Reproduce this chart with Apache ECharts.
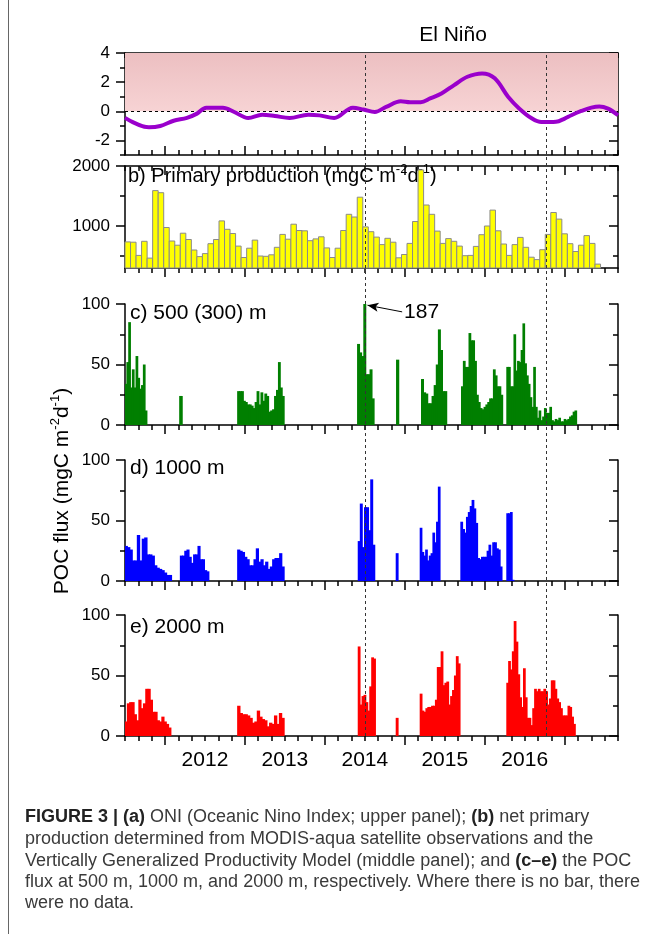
<!DOCTYPE html>
<html>
<head>
<meta charset="utf-8">
<script src="https://cdn.jsdelivr.net/npm/echarts@6/dist/echarts.min.js"></script>
<style>
html,body{margin:0;padding:0;background:#fff;}
#chart{width:657px;height:934px;}
</style>
</head>
<body>
<div id="chart"></div>
<script>
// ---------------- DATA (x = months since Jan 2011) ----------------
const xMin = 6;   // Jul 2011
const xMax = 80;  // Sep 2017
const yearTicks = [12, 24, 36, 48, 60, 72];
const yearLabelPos = [18, 30, 42, 54, 66];
const yearLabels = ['2012', '2013', '2014', '2015', '2016'];
const eventLines = [42, 69.25];

// a) ONI
const oniMonths = [6, 9.6, 11.3, 13.3, 15.3, 16.8, 18.2, 20.7, 22.4, 24.5, 26.6, 28.5, 30.7, 33.5, 35.2, 37.4, 40.2, 41.8, 43.5, 45.2, 47.4, 48.8, 50.4, 51.8, 53.5, 55.4, 57.4, 59.6, 61.5, 63.5, 65.2, 67.1, 68.5, 70.7, 72, 73, 74.5, 76, 77.2, 78.5, 80];
const oniValues = [-0.45, -1.1, -1.01, -0.65, -0.45, -0.16, 0.25, 0.25, -0.05, -0.46, -0.23, -0.32, -0.46, -0.23, -0.28, -0.46, 0.25, 0.12, -0.05, 0.3, 0.69, 0.62, 0.62, 0.88, 1.22, 1.8, 2.37, 2.6, 2.26, 1.0, 0.18, -0.5, -0.74, -0.72, -0.5, -0.27, 0.02, 0.25, 0.33, 0.18, -0.27];

// b) Primary production (regular sampling)
const ppStart = 6;
const ppStep = 0.83;
const ppValues = [735, 730, 510, 745, 465, 1590, 1555, 975, 750, 680,
  880, 775, 600, 490, 540, 705, 775, 1085, 945, 875,
  665, 475, 630, 765, 500, 495, 520, 645, 860, 780,
  1030, 925, 920, 755, 785, 820, 635, 475, 630, 925,
  1195, 1150, 1480, 985, 905, 815, 690, 795, 730, 470,
  525, 710, 1075, 1935, 1350, 1195, 915, 710, 790, 745,
  665, 505, 510, 660, 855, 1000, 1265, 920, 700, 510,
  690, 810, 645, 480, 440, 605, 860, 1225, 1115, 870,
  705, 575, 680, 840, 710, 365];

// c) 500 (300) m  – deployments: start, end, values
const c500Start = [6.0, 14.2, 22.9, 40.9, 46.75, 50.5, 56.5, 63.3];
const c500End   = [9.3, 14.6, 29.9, 43.4, 47.1, 54.3, 62.7, 73.8];
const c500_1 = [34, 52, 85, 31, 46, 31, 57, 39, 30, 33, 50, 12];
const c500_2 = [24];
const c500_3 = [28, 28, 28, 20, 19, 17, 17, 16, 14, 19, 28, 17, 27, 20, 26, 24, 11, 12, 13, 24, 29, 52, 31, 24];
const c500_4 = [67, 60, 57, 187, 42, 42, 46, 22];
const c500_5 = [54];
const c500_6 = [38, 27, 26, 18, 18, 24, 33, 50, 79, 62, 28, 28];
const c500_7 = [32, 53, 48, 48, 76, 70, 70, 53, 25, 19, 14, 13, 15, 17, 19, 22, 22, 46, 41, 32, 32, 25];
const c500_8 = [48, 48, 32, 32, 75, 45, 53, 52, 62, 84, 51, 41, 34, 23, 15, 48, 15, 6, 12, 4, 7, 14, 10, 10, 15, 4, 3, 5, 4, 6, 3, 3, 5, 4, 5, 7, 8, 11, 12];

// d) 1000 m
const d1000Start = [6.0, 14.3, 22.9, 41.0, 46.7, 50.3, 56.4, 63.3];
const d1000End   = [13.0, 18.6, 29.9, 43.5, 47.0, 53.3, 62.6, 64.4];
const d1000_1 = [29, 28, 26, 17, 17, 38, 17, 35, 36, 22, 22, 21, 13, 11, 10, 9, 7, 5, 5];
const d1000_2 = [21, 21, 25, 26, 20, 15, 22, 22, 29, 18, 18, 9, 8];
const d1000_3 = [26, 25, 24, 20, 18, 13, 13, 18, 27, 16, 18, 13, 16, 10, 12, 18, 19, 19, 23, 12];
const d1000_4 = [33, 64, 28, 61, 61, 42, 84, 30];
const d1000_5 = [23];
const d1000_6 = [44, 24, 21, 26, 17, 21, 23, 40, 32, 49, 78];
const d1000_7 = [49, 43, 40, 53, 57, 62, 67, 60, 48, 19, 18, 20, 20, 20, 25, 30, 21, 32, 32, 27, 26, 12];
const d1000_8 = [56, 56, 57, 1];

// e) 2000 m
const e2000Start = [6.0, 22.9, 41.0, 46.7, 50.3, 63.3];
const e2000End   = [12.9, 29.9, 43.6, 47.0, 56.3, 73.6];
const e2000_1 = [12, 27, 28, 28, 18, 13, 30, 23, 27, 39, 39, 30, 20, 20, 13, 12, 16, 12, 10, 7];
const e2000_2 = [25, 19, 18, 18, 17, 15, 11, 12, 21, 16, 14, 13, 8, 11, 10, 17, 10, 19, 15];
const e2000_3 = [74, 26, 33, 34, 28, 21, 41, 65, 64];
const e2000_4 = [15];
const e2000_5 = [35, 21, 20, 23, 24, 24, 25, 25, 30, 57, 57, 70, 42, 44, 45, 26, 33, 38, 50, 66, 60];
const e2000_6 = [44, 62, 55, 70, 95, 78, 51, 32, 24, 56, 32, 15, 15, 9, 23, 39, 37, 39, 37, 37, 39, 37, 26, 31, 46, 46, 39, 31, 28, 23, 17, 17, 17, 25, 24, 16, 10];

const peakLabel = '187';

// ---------------- BUILD ----------------
function segRows(starts, ends, groups) {
  const rows = [];
  groups.forEach((vals, i) => {
    const w = (ends[i] - starts[i]) / vals.length;
    vals.forEach((v, j) => rows.push([starts[i] + j * w, starts[i] + (j + 1) * w, v]));
  });
  return rows;
}
const ppRows = ppValues.map((v, i) => [ppStart + i * ppStep, ppStart + (i + 1) * ppStep, v]);
const c500Rows = segRows(c500Start, c500End, [c500_1, c500_2, c500_3, c500_4, c500_5, c500_6, c500_7, c500_8]);
const d1000Rows = segRows(d1000Start, d1000End, [d1000_1, d1000_2, d1000_3, d1000_4, d1000_5, d1000_6, d1000_7, d1000_8]);
const e2000Rows = segRows(e2000Start, e2000End, [e2000_1, e2000_2, e2000_3, e2000_4, e2000_5, e2000_6]);
const oniData = oniMonths.map((m, i) => [m, oniValues[i]]);

const FONT = 'Liberation Sans, Arial, sans-serif';
const AX = { color: '#000', width: 1.5 };
const L = 125, W = 493;
const grids = [
  { left: L, width: W, top: 53, height: 102 },
  { left: L, width: W, top: 166, height: 102 },
  { left: L, width: W, top: 304, height: 121 },
  { left: L, width: W, top: 460, height: 121 },
  { left: L, width: W, top: 615, height: 121 },
  { left: L, width: W, top: 53, height: 683 }
];

const xAxes = [], yAxes = [];
function addX(grid, position, inside, labels) {
  const minorIdx = xAxes.length;
  xAxes.push({
    type: 'value', gridIndex: grid, position, min: xMin, max: xMax, interval: 2,
    axisLine: { show: true, onZero: false, lineStyle: AX },
    axisTick: { show: true, inside, length: 5, lineStyle: AX },
    axisLabel: { show: false }, splitLine: { show: false }
  });
  xAxes.push({
    type: 'value', gridIndex: grid, position, min: xMin, max: xMax,
    axisLine: { show: false, onZero: false },
    axisTick: { show: true, inside, length: 9, lineStyle: AX, customValues: yearTicks },
    axisLabel: labels ? {
      show: true, customValues: yearLabelPos, margin: 14, fontSize: 21, color: '#000', fontFamily: FONT,
      formatter: v => yearLabels[yearLabelPos.indexOf(v)] || ''
    } : { show: false },
    splitLine: { show: false }
  });
  return minorIdx;
}
function addY(grid, min, max, major, minor, labels) {
  const idx = yAxes.length;
  const base = { type: 'value', gridIndex: grid, min, max, splitLine: { show: false } };
  yAxes.push(Object.assign({}, base, {
    position: 'left',
    axisLine: { show: true, onZero: false, lineStyle: AX },
    axisTick: { show: true, length: 9, lineStyle: AX, customValues: major },
    axisLabel: { show: true, customValues: labels, margin: 15, fontSize: 17, color: '#000', fontFamily: FONT,
      formatter: v => String(v) }
  }));
  yAxes.push(Object.assign({}, base, {
    position: 'left', axisLine: { show: false, onZero: false },
    axisTick: { show: true, length: 5, lineStyle: AX, customValues: minor },
    axisLabel: { show: false }
  }));
  yAxes.push(Object.assign({}, base, {
    position: 'right', axisLine: { show: true, onZero: false, lineStyle: AX },
    axisTick: { show: true, inside: true, length: 9, lineStyle: AX, customValues: major },
    axisLabel: { show: false }
  }));
  yAxes.push(Object.assign({}, base, {
    position: 'right', axisLine: { show: false, onZero: false },
    axisTick: { show: true, inside: true, length: 5, lineStyle: AX, customValues: minor },
    axisLabel: { show: false }
  }));
  return idx;
}

const xa = addX(0, 'bottom', true, false); addX(0, 'top', true, false);
const xb = addX(1, 'bottom', false, false); addX(1, 'top', true, false);
const xc = addX(2, 'bottom', false, false);
const xd = addX(3, 'bottom', false, false);
const xe = addX(4, 'bottom', false, true);
const xo = xAxes.length;
xAxes.push({ type: 'value', gridIndex: 5, min: xMin, max: xMax, show: false });

const ya = addY(0, -3, 4, [-2, 0, 2, 4], [-3, -1, 1, 3], [-2, 0, 2, 4]);
const yb = addY(1, 300, 2000, [1000, 2000], [500, 1500], [1000, 2000]);
const yc = addY(2, 0, 100, [0, 50, 100], [25, 75], [0, 50, 100]);
const yd = addY(3, 0, 100, [0, 50, 100], [25, 75], [0, 50, 100]);
const ye = addY(4, 0, 100, [0, 50, 100], [25, 75], [0, 50, 100]);
const yo = yAxes.length;
yAxes.push({ type: 'value', gridIndex: 5, min: 0, max: 1, show: false });

function makeRenderer(fill, stroke, lw, pad) {
  return function (params, api) {
    const cs = params.coordSys;
    const p0 = api.coord([api.value(0), 0]);
    const p1 = api.coord([api.value(1), api.value(2)]);
    const bottom = cs.y + cs.height;
    const shape = echarts.graphic.clipRectByRect(
      { x: p0[0] - pad, y: p1[1], width: p1[0] - p0[0] + 2 * pad, height: bottom - p1[1] },
      { x: cs.x, y: cs.y, width: cs.width, height: cs.height });
    return shape && { type: 'rect', shape, style: { fill, stroke, lineWidth: lw } };
  };
}
function barSeries(xi, yi, rows, fill, stroke, lw, pad) {
  return {
    type: 'custom', xAxisIndex: xi, yAxisIndex: yi, data: rows,
    renderItem: makeRenderer(fill, stroke, lw, pad), encode: { x: [0, 1], y: 2 },
    silent: true, animation: false
  };
}

const pinkGrad = new echarts.graphic.LinearGradient(0, 0, 0, 1, [
  { offset: 0, color: '#ecbfc1' }, { offset: 1, color: '#f7d3d4' }]);

const series = [
  {
    type: 'line', xAxisIndex: xa, yAxisIndex: ya, data: oniData, smooth: 0.35,
    showSymbol: false, symbol: 'none', lineStyle: { color: '#9a00cc', width: 4 }, z: 5,
    markArea: { silent: true, itemStyle: { color: pinkGrad }, data: [[{ yAxis: 0 }, { yAxis: 4 }]] },
    markLine: { silent: true, symbol: 'none', label: { show: false },
      lineStyle: { color: '#000', type: [3, 3], width: 1 }, data: [{ yAxis: 0 }] }
  },
  barSeries(xb, yb, ppRows, '#ffff00', '#8a8a8a', 1, 0),
  barSeries(xc, yc, c500Rows, '#007f00', null, 0, 0.45),
  barSeries(xd, yd, d1000Rows, '#0000ff', null, 0, 0.45),
  barSeries(xe, ye, e2000Rows, '#ff0000', null, 0, 0.45),
  {
    type: 'line', xAxisIndex: xc, yAxisIndex: yc, data: [], z: 10,
    markLine: {
      silent: true, symbol: ['arrow', 'none'], symbolSize: [7, 11],
      lineStyle: { color: '#000', type: 'solid', width: 1 },
      label: { show: true, position: 'end', distance: 2, formatter: peakLabel, fontSize: 21, color: '#000', fontFamily: FONT },
      data: [[{ coord: [42.4, 99] }, { coord: [47.6, 93.5] }]]
    }
  },
  {
    type: 'line', xAxisIndex: xo, yAxisIndex: yo, data: [], z: 20,
    markLine: {
      silent: true, symbol: 'none', label: { show: false },
      lineStyle: { color: '#333', type: [3, 3], width: 1 },
      data: eventLines.map(v => ({ xAxis: v }))
    }
  }
];

const sup = { fontSize: 13, verticalAlign: 'top', lineHeight: 14, fontFamily: FONT, fill: '#000' };
const lab = { fontSize: 20, lineHeight: 26, fontFamily: FONT, fill: '#000' };
function txt(x, y, text, size) {
  return { type: 'text', x, y, silent: true, style: { text, fontSize: size, fontFamily: FONT, fill: '#000', verticalAlign: 'middle' } };
}
const capLines = [
  '{b|FIGURE 3 | (a)}{n| ONI (Oceanic Nino Index; upper panel); }{b|(b)}{n| net primary}',
  '{n|production determined from MODIS-aqua satellite observations and the}',
  '{n|Vertically Generalized Productivity Model (middle panel); and }{b|(c\u2013e)}{n| the POC}',
  '{n|flux at 500 m, 1000 m, and 2000 m, respectively. Where there is no bar, there}',
  '{n|were no data.}'
];
const capY = [817, 839, 861, 882, 903];
const capFont = '"Liberation Sans", Arial, sans-serif';
const capRich = {
  n: { fontSize: 18, fontFamily: capFont, fill: '#3a3a3a' },
  b: { fontSize: 18, fontFamily: capFont, fontWeight: 'bold', fill: '#222' }
};

const graphics = [
  { type: 'line', silent: true, shape: { x1: 8.5, y1: 0, x2: 8.5, y2: 934 }, style: { stroke: '#666', lineWidth: 1 } },
  { type: 'text', x: 453, y: 35, silent: true, style: { text: 'El Niño', fontSize: 21, fontFamily: FONT, fill: '#000', align: 'center', verticalAlign: 'middle' } },
  txt(128, 72, 'a) ONI (\u00b0C)', 20),
  { type: 'text', x: 128, y: 176, silent: true, style: { text: '{t|b) Primary production (mgC m}{s|-2}{t|d}{s|-1}{t|)}', rich: { t: lab, s: sup }, verticalAlign: 'middle' } },
  txt(130, 313, 'c) 500 (300) m', 21),
  txt(130, 468, 'd) 1000 m', 21),
  txt(130, 627, 'e) 2000 m', 21),
  { type: 'text', x: 62, y: 491, rotation: Math.PI / 2, silent: true,
    style: { text: '{t|POC flux (mgC m}{s|-2}{t|d}{s|-1}{t|)}', align: 'center', verticalAlign: 'middle',
      rich: { t: { fontSize: 21, lineHeight: 26, fontFamily: FONT, fill: '#000' }, s: sup } } }
];
capLines.forEach((t, i) => graphics.push({ type: 'text', x: 25, y: capY[i], silent: true, style: { text: t, rich: capRich, verticalAlign: 'middle' } }));

const chart = echarts.init(document.getElementById('chart'), null, { renderer: 'canvas' });
chart.setOption({
  animation: false,
  backgroundColor: '#fff',
  textStyle: { fontFamily: FONT },
  grid: grids,
  xAxis: xAxes,
  yAxis: yAxes,
  series,
  graphic: graphics
});
</script>
</body>
</html>
